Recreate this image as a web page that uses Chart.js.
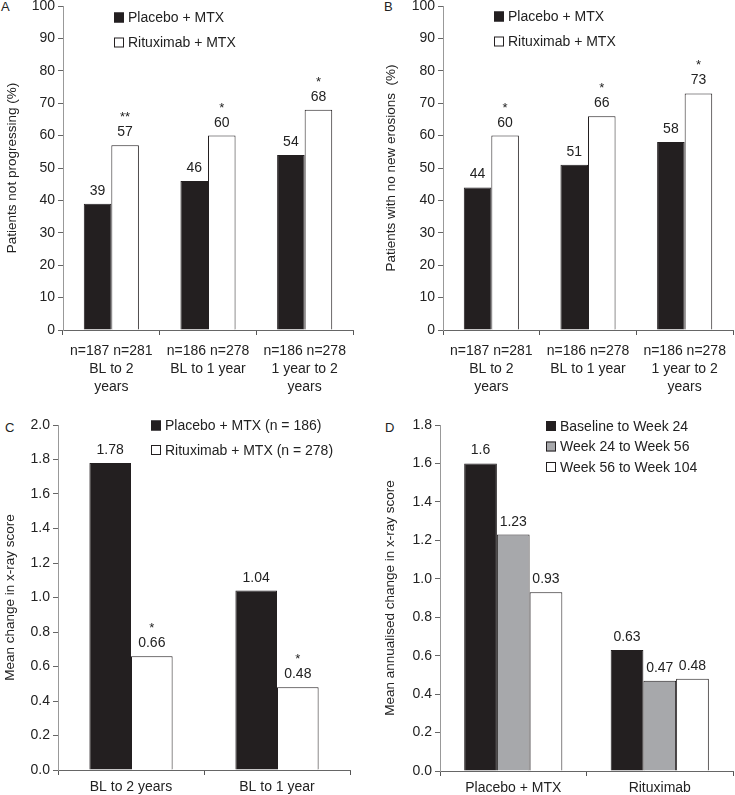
<!DOCTYPE html>
<html>
<head>
<meta charset="utf-8">
<script src="https://cdn.jsdelivr.net/npm/chart.js@4.4.1/dist/chart.umd.min.js"></script>
<style>
body { margin: 0; background: #fff; width: 735px; height: 795px; position: relative; overflow: hidden;
       font-family: "Liberation Sans", Arial, sans-serif; color: #222; }
canvas { position: absolute; }
.tag { position: absolute; font-size: 13px; line-height: 1; }
</style>
</head>
<body>
<div class="tag" style="left:1px;top:0px">A</div>
<div class="tag" style="left:384px;top:0px">B</div>
<div class="tag" style="left:5px;top:421px">C</div>
<div class="tag" style="left:385px;top:421px">D</div>
<canvas id="chartA" width="368" height="405" style="left:0;top:0"></canvas>
<canvas id="chartB" width="367" height="405" style="left:368px;top:0"></canvas>
<canvas id="chartC" width="368" height="380" style="left:0;top:415px"></canvas>
<canvas id="chartD" width="367" height="380" style="left:368px;top:415px"></canvas>
<script>
// ---- data ----
const groupsAB = [['n=187 n=281', 'BL to 2', 'years'], ['n=186 n=278', 'BL to 1 year'], ['n=186 n=278', '1 year to 2', 'years']];
const placeboA = [39, 46, 54];
const rituxA = [57, 60, 68];
const starsA = ['**', '*', '*'];

const placeboB = [44, 51, 58];
const rituxB = [60, 66, 73];
const starsB = ['*', '*', '*'];

const groupsC = ['BL to 2 years', 'BL to 1 year'];
const placeboC = [1.78, 1.04];
const rituxC = [0.66, 0.48];
const starsC = ['*', '*'];

const groupsD = ['Placebo + MTX', 'Rituximab'];
const wk24D = [1.6, 0.63];
const wk56D = [1.23, 0.47];
const wk104D = [0.93, 0.48];

const FONT = '"Liberation Sans", Arial, sans-serif';
const DARK = '#231f20';
const GREY = '#a7a8ab';

Chart.defaults.color = '#222';
Chart.defaults.font.family = FONT;

// value labels + significance stars over each bar
const barLabels = {
	id: 'barLabels',
	afterDatasetsDraw(chart) {
		const ctx = chart.ctx;
		ctx.save();
		ctx.fillStyle = '#222';
		ctx.textAlign = 'center';
		ctx.textBaseline = 'alphabetic';
		chart.data.datasets.forEach((ds, i) => {
			chart.getDatasetMeta(i).data.forEach((bar, j) => {
				ctx.font = '14px ' + FONT;
				ctx.fillText(String(ds.data[j]), bar.x, bar.y - 9);
				if (ds.stars && ds.stars[j]) {
					ctx.font = '13px ' + FONT;
					ctx.fillText(ds.stars[j], bar.x, bar.y - 24);
				}
			});
		});
		ctx.restore();
	}
};

// legend drawn inside the plot, like the original
const boxLegend = {
	id: 'boxLegend',
	afterDraw(chart, args, opts) {
		const ctx = chart.ctx;
		ctx.save();
		ctx.font = '14px ' + FONT;
		ctx.textBaseline = 'middle';
		ctx.textAlign = 'left';
		chart.data.datasets.forEach((ds, i) => {
			const y = opts.y + i * opts.gap;
			ctx.fillStyle = ds.backgroundColor;
			ctx.fillRect(opts.x, y - 5, 10, 10);
			ctx.strokeStyle = DARK;
			ctx.lineWidth = 1;
			ctx.strokeRect(opts.x + 0.5, y - 4.5, 9, 9);
			ctx.fillStyle = '#222';
			ctx.fillText(ds.label, opts.x + 14, y + 1);
		});
		ctx.restore();
	}
};

function makeChart(id, cfg) {
	const yAxis = {
		min: 0, max: cfg.max,
		ticks: { stepSize: cfg.step, padding: 3, font: { size: 14 },
			callback: v => cfg.dec ? v.toFixed(cfg.dec) : v },
		grid: { drawOnChartArea: false, tickLength: 5, color: '#666' },
		border: { color: '#999' },
		title: { display: true, text: cfg.title, font: { size: 13.5 }, padding: { top: cfg.titlePad, bottom: 0 } },
		afterFit: s => { s.width = cfg.yWidth; s.paddingTop = 0; s.paddingBottom = 0; }
	};
	const xAxis = {
		ticks: { padding: cfg.xPad, font: { size: 14, lineHeight: 1.3 }, maxRotation: 0, autoSkip: false },
		grid: { drawOnChartArea: false, tickLength: 5, color: '#555', offset: true },
		border: { color: '#666' },
		afterFit: s => { s.height = cfg.xHeight; s.paddingLeft = 0; s.paddingRight = 0; }
	};
	return new Chart(document.getElementById(id), {
		type: 'bar',
		data: {
			labels: cfg.labels,
			datasets: cfg.datasets.map(d => Object.assign({
				borderColor: DARK, borderWidth: 1,
				categoryPercentage: cfg.catPct, barPercentage: 1
			}, d))
		},
		options: {
			responsive: false,
			animation: false,
			events: [],
			layout: { padding: cfg.pad },
			plugins: {
				legend: { display: false },
				tooltip: { enabled: false },
				boxLegend: cfg.legend
			},
			scales: { x: xAxis, y: yAxis }
		},
		plugins: [barLabels, boxLegend]
	});
}

makeChart('chartA', {
	labels: groupsAB, max: 100, step: 10, dec: 0,
	title: 'Patients not progressing (%)', titlePad: 4,
	yWidth: 63, xHeight: 75, xPad: 7, catPct: 0.57,
	pad: { left: 0, top: 6, right: 15, bottom: 0 },
	legend: { x: 114, y: 17.5, gap: 25 },
	datasets: [
		{ label: 'Placebo + MTX', data: placeboA, backgroundColor: DARK },
		{ label: 'Rituximab + MTX', data: rituxA, backgroundColor: '#fff', stars: starsA }
	]
});

makeChart('chartB', {
	labels: groupsAB, max: 100, step: 10, dec: 0,
	title: 'Patients with no new erosions  (%)', titlePad: 4,
	yWidth: 64, xHeight: 75, xPad: 7, catPct: 0.57,
	pad: { left: 11, top: 6, right: 2, bottom: 0 },
	legend: { x: 126, y: 16.5, gap: 25 },
	datasets: [
		{ label: 'Placebo + MTX', data: placeboB, backgroundColor: DARK },
		{ label: 'Rituximab + MTX', data: rituxB, backgroundColor: '#fff', stars: starsB }
	]
});

makeChart('chartC', {
	labels: groupsC, max: 2.0, step: 0.2, dec: 1,
	title: 'Mean change in x-ray score', titlePad: 2,
	yWidth: 58, xHeight: 25, xPad: 3, catPct: 0.57,
	pad: { left: 0, top: 10, right: 18, bottom: 0 },
	legend: { x: 151, y: 10.5, gap: 24.5 },
	datasets: [
		{ label: 'Placebo + MTX (n = 186)', data: placeboC, backgroundColor: DARK },
		{ label: 'Rituximab + MTX (n = 278)', data: rituxC, backgroundColor: '#fff', stars: starsC }
	]
});

makeChart('chartD', {
	labels: groupsD, max: 1.8, step: 0.2, dec: 1,
	title: 'Mean annualised change in x-ray score', titlePad: 4,
	yWidth: 62, xHeight: 24, xPad: 3, catPct: 0.67,
	pad: { left: 10, top: 10, right: 2, bottom: 0 },
	legend: { x: 178, y: 11, gap: 20.5 },
	datasets: [
		{ label: 'Baseline to Week 24', data: wk24D, backgroundColor: DARK },
		{ label: 'Week 24 to Week 56', data: wk56D, backgroundColor: GREY },
		{ label: 'Week 56 to Week 104', data: wk104D, backgroundColor: '#fff' }
	]
});
</script>
</body>
</html>
